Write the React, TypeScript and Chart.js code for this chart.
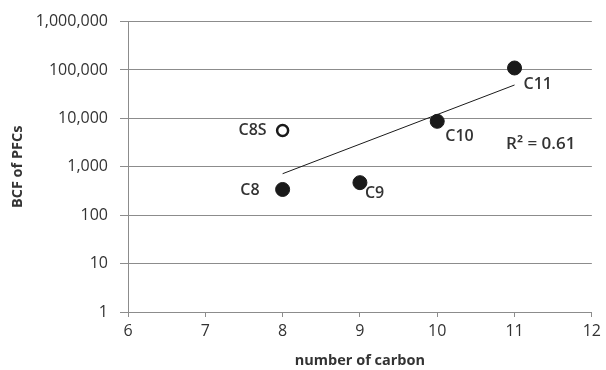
import React, { useEffect, useRef } from "react";
import { Chart, registerables } from "chart.js";

Chart.register(...registerables);

// ---- data ----
const compoundLabels = ["C8", "C9", "C10", "C11"];
const carbonNumbers = [8, 9, 10, 11];
const bcfValues = [340, 470, 8700, 110000];

const sulfonateLabels = ["C8S"];
const sulfonateCarbon = [8];
const sulfonateBcf = [5600];

const trendCarbon = [8, 11];
const trendBcf = [720, 49000];

const yTickValues = [1, 10, 100, 1000, 10000, 100000, 1000000];
const xMin = 6;
const xMax = 12;

const rSquaredText = "R\u00b2 = 0.61";
const rSquaredAnchor = { x: 10.89, y: 2950 };

const yTitle = "BCF of PFCs";
const xTitle = "number of carbon";

// ---- styles ----
const FONT = "'Open Sans', 'Noto Sans', sans-serif";
const TEXT = "#333333";
const GRID = "#8c8c8c";

// label placement (pixel offsets from each point), style only
const labelOffsets: Record<string, { dx: number; dy: number; align: CanvasTextAlign }> = {
  C8: { dx: -23, dy: 1, align: "right" },
  C8S: { dx: -16, dy: 0, align: "right" },
  C9: { dx: 5, dy: 11, align: "left" },
  C10: { dx: 8, dy: 15, align: "left" },
  C11: { dx: 9, dy: 16, align: "left" },
};

const labelPlugin = {
  id: "pointLabels",
  afterDatasetsDraw(chart: any) {
    const ctx = chart.ctx;
    ctx.save();
    ctx.fillStyle = TEXT;
    ctx.font = `600 16px ${FONT}`;
    ctx.textBaseline = "middle";
    chart.data.datasets.forEach((ds: any, di: number) => {
      if (!ds.pointLabels) return;
      const meta = chart.getDatasetMeta(di);
      meta.data.forEach((el: any, i: number) => {
        const lab = ds.pointLabels[i];
        const off = labelOffsets[lab] || { dx: 8, dy: 0, align: "left" };
        ctx.textAlign = off.align;
        ctx.fillText(lab, el.x + off.dx, el.y + off.dy);
      });
    });
    // R² annotation
    const xs = chart.scales.x;
    const ys = chart.scales.y;
    const px = xs.getPixelForValue(rSquaredAnchor.x);
    const py = ys.getPixelForValue(rSquaredAnchor.y);
    ctx.font = `600 17px ${FONT}`;
    ctx.textAlign = "left";
    ctx.fillText(rSquaredText, px, py);
    ctx.restore();
  },
};

export default function App() {
  const ref = useRef<HTMLCanvasElement | null>(null);

  useEffect(() => {
    if (!ref.current) return;
    const chart = new Chart(ref.current, {
      type: "scatter",
      data: {
        datasets: [
          {
            type: "line",
            label: "trend",
            data: trendCarbon.map((x, i) => ({ x, y: trendBcf[i] })),
            borderColor: "#1a1a1a",
            borderWidth: 1,
            pointRadius: 0,
            fill: false,
          } as any,
          {
            label: "PFCAs",
            data: carbonNumbers.map((x, i) => ({ x, y: bcfValues[i] })),
            pointLabels: compoundLabels,
            backgroundColor: "#1a1a1a",
            borderColor: "#1a1a1a",
            pointRadius: 7,
            pointHoverRadius: 7,
          } as any,
          {
            label: "PFOS",
            data: sulfonateCarbon.map((x, i) => ({ x, y: sulfonateBcf[i] })),
            pointLabels: sulfonateLabels,
            backgroundColor: "#ffffff",
            borderColor: "#1a1a1a",
            borderWidth: 2.5,
            pointRadius: 5.5,
            pointHoverRadius: 5.5,
          } as any,
        ],
      },
      options: {
        responsive: false,
        animation: false,
        layout: { padding: { top: 20, right: 12, bottom: 0, left: 0 } },
        plugins: {
          legend: { display: false },
          tooltip: { enabled: false },
        },
        scales: {
          x: {
            type: "linear",
            min: xMin,
            max: xMax,
            ticks: {
              stepSize: 1,
              color: TEXT,
              font: { family: FONT, size: 16 },
              padding: 5,
            },
            grid: {
              drawOnChartArea: false,
              drawTicks: true,
              tickLength: 5,
              color: GRID,
            },
            border: { display: true, color: GRID, width: 1 },
            title: {
              display: true,
              text: xTitle,
              color: TEXT,
              font: { family: FONT, size: 14.5, weight: "bold" },
              padding: { top: 0, bottom: 0 },
            },
            afterFit(scale: any) {
              scale.height = 370 - 312;
            },
          },
          y: {
            type: "logarithmic",
            min: 1,
            max: 1000000,
            afterBuildTicks(scale: any) {
              scale.ticks = yTickValues.map((v) => ({ value: v }));
            },
            ticks: {
              color: TEXT,
              font: { family: FONT, size: 16 },
              padding: 12,
              callback: (v: any) => Number(v).toLocaleString("en-US"),
            },
            grid: {
              color: GRID,
              tickLength: 8,
              lineWidth: 1,
            },
            border: { display: true, color: GRID, width: 1 },
            title: {
              display: true,
              text: yTitle,
              color: TEXT,
              font: { family: FONT, size: 14.5, weight: "bold" },
              padding: { top: 9, bottom: 0 },
            },
            afterFit(scale: any) {
              scale.width = 128;
            },
          },
        },
      } as any,
      plugins: [labelPlugin],
    });
    return () => chart.destroy();
  }, []);

  return (
    <div style={{ position: "absolute", left: 0, top: 0, width: 606, height: 370, background: "#fff" }}>
      <canvas ref={ref} width={606} height={370} />
    </div>
  );
}
